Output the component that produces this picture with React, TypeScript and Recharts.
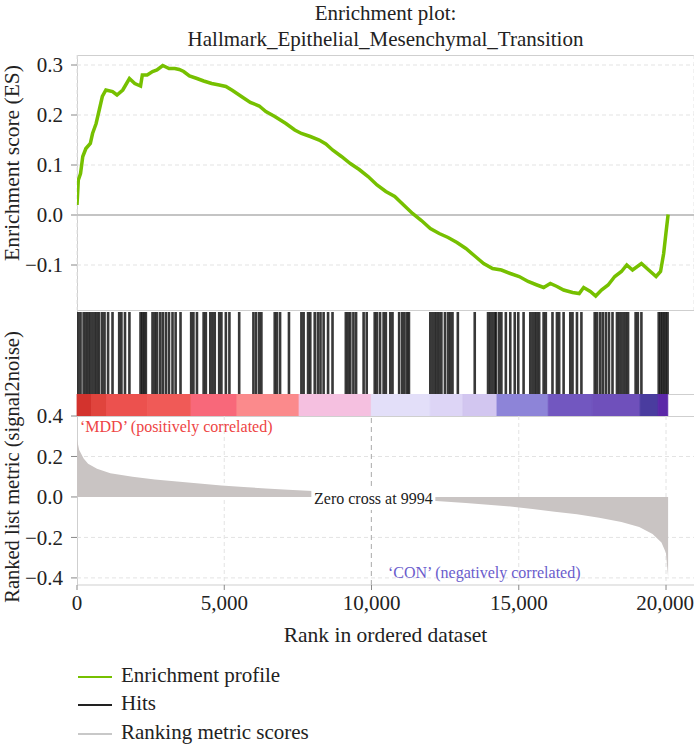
import React from "react";
import {
  ComposedChart,
  Line,
  Area,
  Bar,
  XAxis,
  YAxis,
  CartesianGrid,
  ReferenceLine,
  ReferenceArea,
  ReferenceDot,
} from "recharts";

const FONT = '"Liberation Serif", "DejaVu Serif", serif';
const X_MAX = 20950;
const xTicks = [0, 5000, 10000, 15000, 20000];
const esTicks = [-0.1, 0, 0.1, 0.2, 0.3];
const metricTicks = [-0.4, -0.2, 0, 0.2, 0.4];

// running enrichment score
const esRank = [
  0, 45, 120, 196, 302, 453, 528, 649, 755, 860, 981, 1207, 1358, 1554, 1780,
  1962, 2158, 2218, 2384, 2565, 2716, 2912, 3124, 3320, 3471, 3622, 3818, 4074,
  4301, 4573, 4829, 5055, 5282, 5583, 5885, 6187, 6413, 6715, 7093, 7394, 7620,
  7922, 8224, 8450, 8677, 8979, 9280, 9582, 9884, 10186, 10487, 10789, 11091,
  11393, 11695, 11997, 12299, 12600, 12902, 13204, 13506, 13808, 14110, 14411,
  14713, 15015, 15317, 15618, 15845, 16071, 16298, 16524, 16826, 17052, 17203,
  17430, 17611, 17807, 18034, 18260, 18486, 18667, 18863, 19165, 19392, 19663,
  19814, 19920, 19996, 20071,
];
const esValue = [
  0.02, 0.07, 0.083, 0.117, 0.133, 0.143, 0.163, 0.183, 0.21, 0.237, 0.25,
  0.247, 0.24, 0.25, 0.273, 0.263, 0.258, 0.28, 0.28, 0.287, 0.29, 0.299,
  0.293, 0.293, 0.291, 0.287, 0.278, 0.273, 0.268, 0.263, 0.26, 0.257, 0.249,
  0.237, 0.225, 0.218, 0.207, 0.197, 0.183, 0.17, 0.163, 0.157, 0.15, 0.142,
  0.13, 0.117, 0.103, 0.091, 0.077, 0.06, 0.047, 0.037, 0.02, 0.003, -0.011,
  -0.027, -0.037, -0.045, -0.055, -0.067, -0.082, -0.097, -0.107, -0.11,
  -0.117, -0.123, -0.133, -0.14, -0.145, -0.137, -0.143, -0.15, -0.155,
  -0.157, -0.145, -0.153, -0.162, -0.15, -0.14, -0.123, -0.113, -0.1, -0.11,
  -0.097, -0.109, -0.123, -0.113, -0.077, -0.037, 0.001,
];

// gene set hits
const hitRanks = [
  45, 121, 226, 302, 377, 453, 528, 604, 679, 755, 860, 936, 1056, 1207, 1434,
  1509, 1630, 1781, 2158, 2218, 2279, 2339, 2565, 2641, 2716, 2822, 2912, 3018,
  3124, 3244, 3350, 3516, 3878, 3954, 4074, 4301, 4376, 4527, 4602, 4678, 4829,
  4904, 5055, 5176, 5508, 5991, 6081, 6187, 6262, 6715, 6790, 6896, 7198, 7620,
  7696, 7847, 7922, 8073, 8179, 8269, 8375, 8526, 8677, 9129, 9205, 9280, 9386,
  9477, 9733, 9838, 10110, 10186, 10291, 10412, 10488, 10638, 10714, 10940,
  11046, 11121, 11212, 11272, 11997, 12072, 12147, 12223, 12298, 12374, 12495,
  12600, 12676, 12751, 12932, 13506, 13958, 14034, 14109, 14185, 14230, 14335,
  14411, 14562, 14713, 14864, 14984, 15165, 15392, 15468, 15543, 15618, 15694,
  15845, 15920, 16146, 16297, 16373, 16524, 16750, 16826, 16977, 17128, 17580,
  17656, 17761, 17852, 17957, 18063, 18184, 18335, 18410, 18486, 18561, 18637,
  18712, 18969, 19044, 19165, 19753, 19813, 19873, 19934, 19994, 20054,
];

// colour band under the hits
const bandStart = [0, 500, 1000, 2400, 3870, 5430, 7540, 9990, 11990, 13100, 14260, 16000, 17500, 19120, 19730];
const bandEnd = [500, 1000, 2400, 3870, 5430, 7540, 9990, 11990, 13100, 14260, 16000, 17500, 19120, 19730, 20060];
const bandColor = [
  "#d3332d", "#e0443d", "#ec514e", "#f05a57", "#f8687a", "#fb8a8c",
  "#f5c0e0", "#e3dff9", "#ddd5f6", "#d2c6f0", "#8d84d8", "#7257c0",
  "#6f50bb", "#4a3c9f", "#5b27a8",
];

// ranked list metric
const metricRank = [
  0, 75, 226, 377, 679, 1132, 1886, 2641, 3395, 4150, 4904, 5659, 6413, 7168,
  8000, 9994, 12072, 13204, 13958, 14713, 15468, 16222, 16977, 17731, 18486,
  19090, 19543, 19845, 19996, 20071,
];
const metricValue = [
  0.283, 0.232, 0.19, 0.164, 0.139, 0.117, 0.1, 0.086, 0.076, 0.066, 0.056,
  0.049, 0.042, 0.036, 0.029, 0, -0.019, -0.03, -0.039, -0.047, -0.059,
  -0.073, -0.086, -0.103, -0.124, -0.149, -0.183, -0.225, -0.276, -0.395,
];

const esData = esRank.map((rank, i) => ({ rank, es: esValue[i] }));
const metricData = metricRank.map((rank, i) => ({ rank, metric: metricValue[i] }));
const hitData = hitRanks.map((rank) => ({ rank, hit: 1 }));
const bandData = bandStart.map((s) => ({ rank: s, mid: 0.5 }));

const fmt = (v: number) => (v < 0 ? "\u2212" : "") + Math.abs(v).toFixed(1);
const fmtRank = (v: number) => v.toLocaleString("en-US");

const tickStyle = { fontSize: 21, fill: "#222", fontFamily: FONT };
const gridColor = "#e3e3e3";
const frame = "#cfcfcf";

const hLine = (top: number, left: number, width: number) => (
  <div style={{ position: "absolute", top, left, width, height: 1, background: frame }} />
);

// fixed-width tick mark centred on the bar's rank
function HitBar(props: any) {
  const { x, y, width, height } = props;
  const cx = x + width / 2;
  return <rect x={cx - 1.3} y={y} width={2.6} height={height} fill="#151515" fillOpacity={0.85} />;
}

function ZeroCrossLabel(props: any) {
  const { cx, cy } = props;
  return (
    <g>
      <rect x={cx - 60} y={cy - 11} width={124} height={24} fill="#fff" />
      <text
        x={cx + 2}
        y={cy + 7}
        textAnchor="middle"
        fontSize={16}
        fontFamily={FONT}
        fill="#222"
      >
        Zero cross at 9994
      </text>
    </g>
  );
}

export default function App() {
  return (
    <div
      style={{
        position: "absolute",
        left: 0,
        top: 0,
        width: 694,
        height: 744,
        background: "#fff",
        fontFamily: FONT,
        color: "#222",
      }}
    >
      {/* frame lines */}
      {hLine(55, 77, 617)}
      {hLine(310, 77, 617)}
      {hLine(394, 77, 617)}
      {hLine(416, 77, 617)}
      <div style={{ position: "absolute", top: 55, left: 77, width: 1, height: 530, background: frame }} />

      {/* title */}
      <div
        style={{
          position: "absolute",
          top: 0,
          left: 77,
          width: 617,
          textAlign: "center",
          fontSize: 21,
          lineHeight: "26px",
        }}
      >
        Enrichment plot:
        <br />
        Hallmark_Epithelial_Mesenchymal_Transition
      </div>

      {/* ES panel */}
      <div style={{ position: "absolute", left: 0, top: 0 }}>
        <ComposedChart
          width={694}
          height={310}
          data={esData}
          margin={{ top: 55, right: 0, bottom: 0, left: 0 }}
        >
          <CartesianGrid stroke={gridColor} strokeDasharray="4 3" horizontalValues={[-0.1, 0.1, 0.2, 0.3]} />
          <XAxis
            type="number"
            dataKey="rank"
            domain={[0, X_MAX]}
            ticks={xTicks}
            tick={false}
            axisLine={false}
            tickLine={false}
            height={0}
            allowDataOverflow
          />
          <YAxis
            width={77}
            domain={[-0.19, 0.32]}
            ticks={esTicks}
            tickFormatter={fmt}
            tick={tickStyle}
            tickLine={{ stroke: "#888" }}
            tickSize={6}
            tickMargin={8}
            axisLine={false}
            allowDataOverflow
          />
          <ReferenceLine y={0} stroke="#c4c4c4" strokeWidth={2} />
          <Line
            type="linear"
            dataKey="es"
            stroke="#76c000"
            strokeWidth={3.5}
            dot={false}
            isAnimationActive={false}
          />
        </ComposedChart>
      </div>

      {/* hits */}
      <div style={{ position: "absolute", left: 0, top: 312 }}>
        <ComposedChart width={694} height={82} data={hitData} margin={{ top: 0, right: 0, bottom: 0, left: 77 }}>
          <XAxis type="number" dataKey="rank" domain={[0, X_MAX]} hide allowDataOverflow />
          <YAxis domain={[0, 1]} hide allowDataOverflow />
          <Bar dataKey="hit" shape={HitBar} isAnimationActive={false} />
        </ComposedChart>
      </div>

      {/* colour band */}
      <div style={{ position: "absolute", left: 0, top: 394 }}>
        <ComposedChart width={694} height={22} data={bandData} margin={{ top: 0, right: 0, bottom: 0, left: 77 }}>
          <XAxis type="number" dataKey="rank" domain={[0, X_MAX]} hide allowDataOverflow />
          <YAxis domain={[0, 1]} hide allowDataOverflow />
          <Line dataKey="mid" stroke="none" dot={false} isAnimationActive={false} />
          {bandStart.map((s, i) => (
            <ReferenceArea
              key={s}
              x1={s}
              x2={bandEnd[i]}
              y1={0}
              y2={1}
              fill={bandColor[i]}
              fillOpacity={1}
              stroke={bandColor[i]}
              strokeWidth={0.8}
            />
          ))}
        </ComposedChart>
      </div>

      {/* ranked list metric */}
      <div style={{ position: "absolute", left: 0, top: 380 }}>
        <ComposedChart
          width={694}
          height={272}
          data={metricData}
          margin={{ top: 36, right: 0, bottom: 0, left: 0 }}
        >
          <CartesianGrid stroke={gridColor} strokeDasharray="4 3" horizontalValues={[-0.4, -0.2, 0.2]} verticalValues={[5000, 15000, 20000]} />
          <XAxis
            type="number"
            dataKey="rank"
            domain={[0, X_MAX]}
            ticks={xTicks}
            tickFormatter={fmtRank}
            tick={tickStyle}
            tickLine={{ stroke: "#888" }}
            tickSize={5}
            tickMargin={5}
            axisLine={{ stroke: frame }}
            height={67}
            allowDataOverflow
            label={{
              value: "Rank in ordered dataset",
              position: "insideBottom",
              offset: 10,
              style: { fontSize: 21.5, fill: "#222", fontFamily: FONT },
            }}
          />
          <YAxis
            width={77}
            domain={[-0.435, 0.4]}
            ticks={metricTicks}
            tickFormatter={fmt}
            tick={tickStyle}
            tickLine={{ stroke: "#888" }}
            tickSize={6}
            tickMargin={8}
            axisLine={false}
            allowDataOverflow
          />
          <Area
            type="linear"
            dataKey="metric"
            baseValue={0}
            fill="#c9c4c3"
            fillOpacity={1}
            stroke="none"
            isAnimationActive={false}
          />
          <ReferenceLine x={9994} stroke="#a9a9a9" strokeDasharray="5 4" />
          <ReferenceDot x={9994} y={0} shape={ZeroCrossLabel} />
        </ComposedChart>
      </div>

      {/* correlation labels */}
      <div style={{ position: "absolute", left: 80, top: 418, fontSize: 16, color: "#ee4444", whiteSpace: "nowrap" }}>
        ‘MDD’ (positively correlated)
      </div>
      <div style={{ position: "absolute", left: 388, top: 564, fontSize: 16, color: "#6a5ccc", whiteSpace: "nowrap" }}>
        ‘CON’ (negatively correlated)
      </div>

      {/* axis titles */}
      <svg width={40} height={640} style={{ position: "absolute", left: 0, top: 0 }}>
        <text
          transform="translate(19,163) rotate(-90)"
          textAnchor="middle"
          fontSize={21.5}
          fontFamily={FONT}
          fill="#222"
        >
          Enrichment score (ES)
        </text>
        <text
          transform="translate(19,467) rotate(-90)"
          textAnchor="middle"
          fontSize={20.5}
          fontFamily={FONT}
          fill="#222"
        >
          Ranked list metric (signal2noise)
        </text>
      </svg>

      {/* legend */}
      {[
        { label: "Enrichment profile", color: "#76c000", top: 661 },
        { label: "Hits", color: "#222", top: 689 },
        { label: "Ranking metric scores", color: "#c8c8c8", top: 718 },
      ].map((d) => (
        <div key={d.label} style={{ position: "absolute", left: 78, top: d.top, height: 28, display: "flex", alignItems: "center", fontSize: 21, whiteSpace: "nowrap" }}>
          <div style={{ width: 34, height: 2, background: d.color, marginRight: 9, marginTop: 4 }} />
          {d.label}
        </div>
      ))}
    </div>
  );
}
